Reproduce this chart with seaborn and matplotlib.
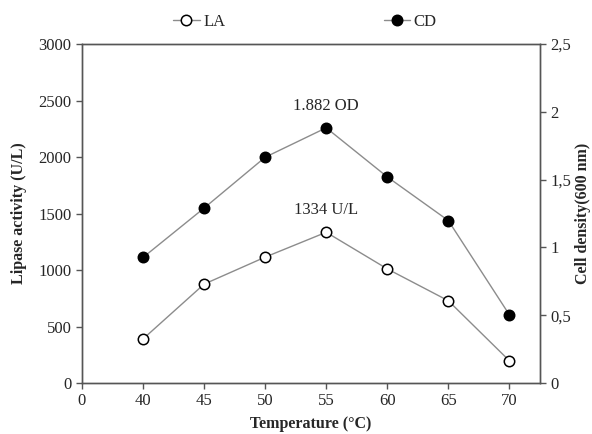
import pandas as pd
import seaborn as sns
import matplotlib.pyplot as plt
from matplotlib.lines import Line2D

# Data
temperature = [40, 45, 50, 55, 60, 65, 70]
lipase_activity = [390, 875, 1114, 1334, 1010, 728, 197]
cell_density = [0.926, 1.29, 1.665, 1.882, 1.52, 1.198, 0.503]
x_ticks = [35, 40, 45, 50, 55, 60, 65, 70]
x_tick_labels = ['0', '40', '45', '50', '55', '60', '65', '70']
left_ticks = [0, 500, 1000, 1500, 2000, 2500, 3000]
right_ticks = [0, 0.5, 1, 1.5, 2, 2.5]
right_tick_labels = ['0', '0,5', '1', '1,5', '2', '2,5']

df = pd.DataFrame({'Temperature': temperature, 'LA': lipase_activity, 'CD': cell_density})

sns.set_style('white')
plt.rcParams['font.family'] = ['Liberation Serif', 'DejaVu Serif']

fig = plt.figure(figsize=(5.92, 4.34), dpi=100)
ax = fig.add_axes([0.1385, 0.1175, 0.7735, 0.7811])
ax2 = ax.twinx()

line_kw = dict(color='#8c8c8c', linewidth=1.0, markersize=7.5, markeredgecolor='black',
               markeredgewidth=1.1)
sns.lineplot(data=df, x='Temperature', y='LA', ax=ax, marker='o', markerfacecolor='white', **line_kw)
sns.lineplot(data=df, x='Temperature', y='CD', ax=ax2, marker='o', markerfacecolor='black', **line_kw)

ax.set_xlim(35, 72.5)
ax.set_ylim(0, 3000)
ax2.set_ylim(0, 2.5)
ax.set_xticks(x_ticks)
ax.set_xticklabels(x_tick_labels)
ax.set_yticks(left_ticks)
ax2.set_yticks(right_ticks)
ax2.set_yticklabels(right_tick_labels)

for a in (ax, ax2):
    for s in a.spines.values():
        s.set_color('#555555')
        s.set_linewidth(1.0)
    a.tick_params(labelsize=12, length=4, width=1, color='#555555', direction='out')
ax.tick_params(axis='both', left=True, bottom=True)
ax2.tick_params(axis='y', right=True)

ax.set_xlabel('Temperature (°C)', fontsize=11.5, fontweight='bold', labelpad=5)
ax.set_ylabel('Lipase activity (U/L)', fontsize=11.5, fontweight='bold', labelpad=8)
ax2.set_ylabel('Cell density(600 nm)', fontsize=11.5, fontweight='bold', labelpad=3)

# peak annotations
peak = lipase_activity.index(max(lipase_activity))
ax.annotate(f'{lipase_activity[peak]} U/L', (temperature[peak], lipase_activity[peak]),
            xytext=(0, 10), textcoords='offset points', ha='center', va='bottom', fontsize=12)
peak_cd = cell_density.index(max(cell_density))
ax2.annotate(f'{cell_density[peak_cd]:.3f} OD', (temperature[peak_cd], cell_density[peak_cd]),
             xytext=(0, 10), textcoords='offset points', ha='center', va='bottom', fontsize=12)

handles = [Line2D([], [], marker='o', markerfacecolor='white', **line_kw),
           Line2D([], [], marker='o', markerfacecolor='black', **line_kw)]
fig.legend(handles, ['LA', 'CD'], loc='center', bbox_to_anchor=(0.515, 0.95), ncol=2,
           frameon=False, fontsize=12, handlelength=1.6, handletextpad=0.2, columnspacing=9.5)

fig.savefig('out.png', dpi=100)
